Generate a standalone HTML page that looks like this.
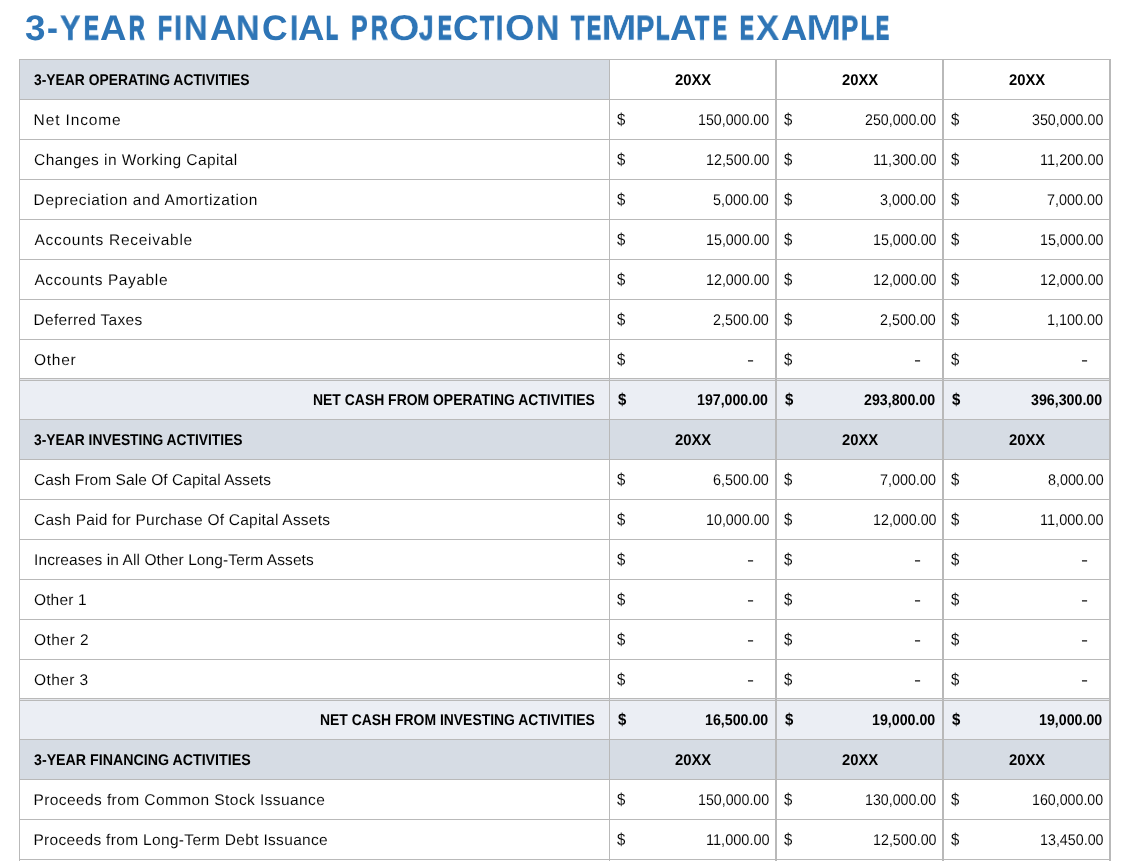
<!DOCTYPE html>
<html lang="en">
<head>
<meta charset="utf-8">
<title>3-YEAR FINANCIAL PROJECTION TEMPLATE EXAMPLE</title>
<style>
html,body{margin:0;padding:0;background:#fff;}
body{width:1123px;height:861px;overflow:hidden;position:relative;font-family:"Liberation Sans",sans-serif;color:#000;text-rendering:geometricPrecision;}
h1{position:absolute;margin:0;left:0;top:8px;width:1123px;height:40px;line-height:40px;font-weight:bold;font-size:35.5px;--tc:#2e75b6;color:var(--tc);white-space:nowrap;}
h1 .w{display:inline;}
h1 .g{display:inline-block;position:relative;top:0;width:0;height:40px;line-height:40px;overflow:visible;vertical-align:top;transform-origin:0 19.75px;will-change:transform;}
.sheet{position:absolute;left:0;top:0;width:1123px;height:861px;}
.r{position:absolute;left:20px;width:1089px;height:39px;}
.r.head .bg,.r.head0 .bg0{background:#d6dce4;}
.r.total .bg{background:#ebeef4;}
.bg{position:absolute;left:0;top:0;width:1089px;height:39px;}
.bg0{position:absolute;left:0;top:0;width:589px;height:39px;}
.c{position:absolute;top:1px;height:39px;line-height:39px;font-size:15.5px;white-space:nowrap;-webkit-text-stroke:0.08px #fff;}
.ds{top:0;font-size:16.8px;transform:scaleX(.89);transform-origin:0 50%;}
.b{font-weight:bold;-webkit-text-stroke:0;}
.hl{position:absolute;left:19px;width:1092px;height:1px;background:#b9b9b9;}
.vl{position:absolute;top:59px;height:802px;background:#b9b9b9;}
</style>
</head>
<body>
<h1 aria-label="3-YEAR FINANCIAL PROJECTION TEMPLATE EXAMPLE"><span class="w"><span class="g" id="t0_0" style="left:24.58px;transform:scale(1.0377,1.0000)">3</span><span class="g" id="t0_1" style="left:47.24px;transform:scale(0.9165,0.9919);-webkit-text-stroke:0.20px var(--tc)">-</span><span class="g" id="t0_2" style="left:60.07px;transform:scale(0.8706,0.9867);-webkit-text-stroke:0.33px var(--tc)">Y</span><span class="g" id="t0_3" style="left:83.98px;transform:scale(0.6268,0.9479);-webkit-text-stroke:1.34px var(--tc)">E</span><span class="g" id="t0_4" style="left:99.64px;transform:scale(1.0327,1.0000)">A</span><span class="g" id="t0_5" style="left:129.08px;transform:scale(0.6097,0.9443);-webkit-text-stroke:1.44px var(--tc)">R</span></span> <span class="w"><span class="g" id="t1_0" style="left:148.33px;transform:scale(0.6416,0.9509);-webkit-text-stroke:1.26px var(--tc)">F</span><span class="g" id="t1_1" style="left:164.43px;transform:scale(0.8171,0.9799);-webkit-text-stroke:0.50px var(--tc)">I</span><span class="g" id="t1_2" style="left:174.14px;transform:scale(0.9191,0.9919);-webkit-text-stroke:0.20px var(--tc)">N</span><span class="g" id="t1_3" style="left:199.96px;transform:scale(1.0323,1.0000)">A</span><span class="g" id="t1_4" style="left:226.53px;transform:scale(0.9170,0.9919);-webkit-text-stroke:0.20px var(--tc)">N</span><span class="g" id="t1_5" style="left:252.18px;transform:scale(0.9944,1.0000)">C</span><span class="g" id="t1_6" style="left:279.86px;transform:scale(0.8297,0.9815);-webkit-text-stroke:0.46px var(--tc)">I</span><span class="g" id="t1_7" style="left:287.86px;transform:scale(1.0312,1.0000)">A</span><span class="g" id="t1_8" style="left:316.21px;transform:scale(0.5488,0.9295);-webkit-text-stroke:1.85px var(--tc)">L</span></span> <span class="w"><span class="g" id="t2_0" style="left:331.48px;transform:scale(0.6991,0.9618);-webkit-text-stroke:0.97px var(--tc)">P</span><span class="g" id="t2_1" style="left:351.62px;transform:scale(0.6527,0.9531);-webkit-text-stroke:1.20px var(--tc)">R</span><span class="g" id="t2_2" style="left:369.29px;transform:scale(1.1095,1.0124);-webkit-text-stroke:0.30px #fff">O</span><span class="g" id="t2_3" style="left:399.57px;transform:scale(0.7335,0.9675);-webkit-text-stroke:0.82px var(--tc)">J</span><span class="g" id="t2_4" style="left:418.14px;transform:scale(0.5787,0.9370);-webkit-text-stroke:1.64px var(--tc)">E</span><span class="g" id="t2_5" style="left:433.23px;transform:scale(0.9829,1.0000)">C</span><span class="g" id="t2_6" style="left:459.92px;transform:scale(0.6482,0.9524);-webkit-text-stroke:1.22px var(--tc)">T</span><span class="g" id="t2_7" style="left:476.68px;transform:scale(0.7065,0.9633);-webkit-text-stroke:0.93px var(--tc)">I</span><span class="g" id="t2_8" style="left:485.27px;transform:scale(1.0756,1.0087);-webkit-text-stroke:0.21px #fff">O</span><span class="g" id="t2_9" style="left:516.44px;transform:scale(0.9057,0.9907);-webkit-text-stroke:0.23px var(--tc)">N</span></span> <span class="w"><span class="g" id="t3_0" style="left:541.17px;transform:scale(0.6086,0.9439);-webkit-text-stroke:1.45px var(--tc)">T</span><span class="g" id="t3_1" style="left:557.85px;transform:scale(0.5901,0.9399);-webkit-text-stroke:1.56px var(--tc)">E</span><span class="g" id="t3_2" style="left:571.19px;transform:scale(1.2151,1.0222);-webkit-text-stroke:0.53px #fff">M</span><span class="g" id="t3_3" style="left:606.54px;transform:scale(0.7655,0.9725);-webkit-text-stroke:0.69px var(--tc)">P</span><span class="g" id="t3_4" style="left:626.58px;transform:scale(0.6200,0.9465);-webkit-text-stroke:1.38px var(--tc)">L</span><span class="g" id="t3_5" style="left:639.92px;transform:scale(1.0364,1.0000)">A</span><span class="g" id="t3_6" style="left:665.27px;transform:scale(0.6521,0.9531);-webkit-text-stroke:1.20px var(--tc)">T</span><span class="g" id="t3_7" style="left:683.24px;transform:scale(0.5856,0.9388);-webkit-text-stroke:1.59px var(--tc)">E</span></span> <span class="w"><span class="g" id="t4_0" style="left:700.77px;transform:scale(0.5830,0.9381);-webkit-text-stroke:1.61px var(--tc)">E</span><span class="g" id="t4_1" style="left:716.56px;transform:scale(0.9774,1.0000)">X</span><span class="g" id="t4_2" style="left:741.65px;transform:scale(1.0290,1.0000)">A</span><span class="g" id="t4_3" style="left:766.04px;transform:scale(1.2092,1.0218);-webkit-text-stroke:0.52px #fff">M</span><span class="g" id="t4_4" style="left:801.68px;transform:scale(0.7219,0.9656);-webkit-text-stroke:0.87px var(--tc)">P</span><span class="g" id="t4_5" style="left:821.71px;transform:scale(0.5976,0.9414);-webkit-text-stroke:1.52px var(--tc)">L</span><span class="g" id="t4_6" style="left:836.72px;transform:scale(0.5452,0.9285);-webkit-text-stroke:1.88px var(--tc)">E</span></span></h1>
<div class="sheet">
<div class="r head0" style="top:60px"><div class="bg0"></div><div id="l0" class="c b" style="left:13.50px;letter-spacing:0.000px;transform:scaleX(0.8941);transform-origin:0 50%">3-YEAR OPERATING ACTIVITIES</div><div id="v0_0" class="c b" style="left:654.56px;letter-spacing:0.000px;transform:scaleX(0.9563);transform-origin:0 50%">20XX</div><div id="v0_1" class="c b" style="left:821.56px;letter-spacing:0.000px;transform:scaleX(0.9563);transform-origin:0 50%">20XX</div><div id="v0_2" class="c b" style="left:988.56px;letter-spacing:0.000px;transform:scaleX(0.9563);transform-origin:0 50%">20XX</div></div>
<div class="r data" style="top:100px"><div id="l1" class="c" style="left:13.58px;letter-spacing:0.879px">Net Income</div><div id="d1_0" class="c ds" style="left:597.46px">$</div><div id="v1_0" class="c" style="left:677.68px;letter-spacing:0.000px;transform:scaleX(0.9172);transform-origin:0 50%">150,000.00</div><div id="d1_1" class="c ds" style="left:764.46px">$</div><div id="v1_1" class="c" style="left:844.76px;letter-spacing:0.000px;transform:scaleX(0.9169);transform-origin:0 50%">250,000.00</div><div id="d1_2" class="c ds" style="left:931.46px">$</div><div id="v1_2" class="c" style="left:1012.42px;letter-spacing:0.000px;transform:scaleX(0.9194);transform-origin:0 50%">350,000.00</div></div>
<div class="r data" style="top:140px"><div id="l2" class="c" style="left:14.02px;letter-spacing:0.458px">Changes in Working Capital</div><div id="d2_0" class="c ds" style="left:597.46px">$</div><div id="v2_0" class="c" style="left:685.67px;letter-spacing:0.000px;transform:scaleX(0.9219);transform-origin:0 50%">12,500.00</div><div id="d2_1" class="c ds" style="left:764.46px">$</div><div id="v2_1" class="c" style="left:852.53px;letter-spacing:0.000px;transform:scaleX(0.9388);transform-origin:0 50%">11,300.00</div><div id="d2_2" class="c ds" style="left:931.46px">$</div><div id="v2_2" class="c" style="left:1019.53px;letter-spacing:0.000px;transform:scaleX(0.9388);transform-origin:0 50%">11,200.00</div></div>
<div class="r data" style="top:180px"><div id="l3" class="c" style="left:13.58px;letter-spacing:0.606px">Depreciation and Amortization</div><div id="d3_0" class="c ds" style="left:597.46px">$</div><div id="v3_0" class="c" style="left:693.30px;letter-spacing:0.000px;transform:scaleX(0.9254);transform-origin:0 50%">5,000.00</div><div id="d3_1" class="c ds" style="left:764.46px">$</div><div id="v3_1" class="c" style="left:860.02px;letter-spacing:0.000px;transform:scaleX(0.9259);transform-origin:0 50%">3,000.00</div><div id="d3_2" class="c ds" style="left:931.46px">$</div><div id="v3_2" class="c" style="left:1027.36px;letter-spacing:0.000px;transform:scaleX(0.9259);transform-origin:0 50%">7,000.00</div></div>
<div class="r data" style="top:220px"><div id="l4" class="c" style="left:14.45px;letter-spacing:0.724px">Accounts Receivable</div><div id="d4_0" class="c ds" style="left:597.46px">$</div><div id="v4_0" class="c" style="left:685.67px;letter-spacing:0.000px;transform:scaleX(0.9219);transform-origin:0 50%">15,000.00</div><div id="d4_1" class="c ds" style="left:764.46px">$</div><div id="v4_1" class="c" style="left:852.67px;letter-spacing:0.000px;transform:scaleX(0.9219);transform-origin:0 50%">15,000.00</div><div id="d4_2" class="c ds" style="left:931.46px">$</div><div id="v4_2" class="c" style="left:1019.67px;letter-spacing:0.000px;transform:scaleX(0.9219);transform-origin:0 50%">15,000.00</div></div>
<div class="r data" style="top:260px"><div id="l5" class="c" style="left:14.45px;letter-spacing:0.599px">Accounts Payable</div><div id="d5_0" class="c ds" style="left:597.46px">$</div><div id="v5_0" class="c" style="left:685.67px;letter-spacing:0.000px;transform:scaleX(0.9219);transform-origin:0 50%">12,000.00</div><div id="d5_1" class="c ds" style="left:764.46px">$</div><div id="v5_1" class="c" style="left:852.67px;letter-spacing:0.000px;transform:scaleX(0.9219);transform-origin:0 50%">12,000.00</div><div id="d5_2" class="c ds" style="left:931.46px">$</div><div id="v5_2" class="c" style="left:1019.67px;letter-spacing:0.000px;transform:scaleX(0.9219);transform-origin:0 50%">12,000.00</div></div>
<div class="r data" style="top:300px"><div id="l6" class="c" style="left:13.52px;letter-spacing:0.294px">Deferred Taxes</div><div id="d6_0" class="c ds" style="left:597.46px">$</div><div id="v6_0" class="c" style="left:693.25px;letter-spacing:0.000px;transform:scaleX(0.9254);transform-origin:0 50%">2,500.00</div><div id="d6_1" class="c ds" style="left:764.46px">$</div><div id="v6_1" class="c" style="left:860.25px;letter-spacing:0.000px;transform:scaleX(0.9254);transform-origin:0 50%">2,500.00</div><div id="d6_2" class="c ds" style="left:931.46px">$</div><div id="v6_2" class="c" style="left:1027.40px;letter-spacing:0.000px;transform:scaleX(0.9298);transform-origin:0 50%">1,100.00</div></div>
<div class="r data" style="top:340px"><div id="l7" class="c" style="left:13.95px;letter-spacing:0.743px">Other</div><div id="d7_0" class="c ds" style="left:597.46px">$</div><div id="v7_0" class="c" style="left:726.71px;letter-spacing:0.000px;transform:scaleX(1.37);transform-origin:0 50%">-</div><div id="d7_1" class="c ds" style="left:764.46px">$</div><div id="v7_1" class="c" style="left:893.71px;letter-spacing:0.000px;transform:scaleX(1.37);transform-origin:0 50%">-</div><div id="d7_2" class="c ds" style="left:931.46px">$</div><div id="v7_2" class="c" style="left:1060.71px;letter-spacing:0.000px;transform:scaleX(1.37);transform-origin:0 50%">-</div></div>
<div class="r total" style="top:380px"><div class="bg"></div><div id="l8" class="c b" style="left:292.99px;letter-spacing:0.000px;transform:scaleX(0.8992);transform-origin:0 50%">NET CASH FROM OPERATING ACTIVITIES</div><div id="d8_0" class="c ds b" style="left:597.70px">$</div><div id="v8_0" class="c b" style="left:676.88px;letter-spacing:0.000px;transform:scaleX(0.9148);transform-origin:0 50%">197,000.00</div><div id="d8_1" class="c ds b" style="left:764.70px">$</div><div id="v8_1" class="c b" style="left:844.19px;letter-spacing:0.000px;transform:scaleX(0.9160);transform-origin:0 50%">293,800.00</div><div id="d8_2" class="c ds b" style="left:931.70px">$</div><div id="v8_2" class="c b" style="left:1011.40px;letter-spacing:0.000px;transform:scaleX(0.9171);transform-origin:0 50%">396,300.00</div></div>
<div class="r head" style="top:420px"><div class="bg"></div><div id="l9" class="c b" style="left:14.10px;letter-spacing:0.000px;transform:scaleX(0.8926);transform-origin:0 50%">3-YEAR INVESTING ACTIVITIES</div><div id="v9_0" class="c b" style="left:654.56px;letter-spacing:0.000px;transform:scaleX(0.9563);transform-origin:0 50%">20XX</div><div id="v9_1" class="c b" style="left:821.56px;letter-spacing:0.000px;transform:scaleX(0.9563);transform-origin:0 50%">20XX</div><div id="v9_2" class="c b" style="left:988.56px;letter-spacing:0.000px;transform:scaleX(0.9563);transform-origin:0 50%">20XX</div></div>
<div class="r data" style="top:460px"><div id="l10" class="c" style="left:14.10px;letter-spacing:0.054px">Cash From Sale Of Capital Assets</div><div id="d10_0" class="c ds" style="left:597.46px">$</div><div id="v10_0" class="c" style="left:693.42px;letter-spacing:0.000px;transform:scaleX(0.9257);transform-origin:0 50%">6,500.00</div><div id="d10_1" class="c ds" style="left:764.46px">$</div><div id="v10_1" class="c" style="left:860.36px;letter-spacing:0.000px;transform:scaleX(0.9259);transform-origin:0 50%">7,000.00</div><div id="d10_2" class="c ds" style="left:931.46px">$</div><div id="v10_2" class="c" style="left:1027.64px;letter-spacing:0.000px;transform:scaleX(0.9240);transform-origin:0 50%">8,000.00</div></div>
<div class="r data" style="top:500px"><div id="l11" class="c" style="left:14.02px;letter-spacing:0.233px">Cash Paid for Purchase Of Capital Assets</div><div id="d11_0" class="c ds" style="left:597.46px">$</div><div id="v11_0" class="c" style="left:685.67px;letter-spacing:0.000px;transform:scaleX(0.9219);transform-origin:0 50%">10,000.00</div><div id="d11_1" class="c ds" style="left:764.46px">$</div><div id="v11_1" class="c" style="left:852.67px;letter-spacing:0.000px;transform:scaleX(0.9219);transform-origin:0 50%">12,000.00</div><div id="d11_2" class="c ds" style="left:931.46px">$</div><div id="v11_2" class="c" style="left:1019.53px;letter-spacing:0.000px;transform:scaleX(0.9388);transform-origin:0 50%">11,000.00</div></div>
<div class="r data" style="top:540px"><div id="l12" class="c" style="left:14.08px;letter-spacing:0.106px">Increases in All Other Long-Term Assets</div><div id="d12_0" class="c ds" style="left:597.46px">$</div><div id="v12_0" class="c" style="left:726.71px;letter-spacing:0.000px;transform:scaleX(1.37);transform-origin:0 50%">-</div><div id="d12_1" class="c ds" style="left:764.46px">$</div><div id="v12_1" class="c" style="left:893.71px;letter-spacing:0.000px;transform:scaleX(1.37);transform-origin:0 50%">-</div><div id="d12_2" class="c ds" style="left:931.46px">$</div><div id="v12_2" class="c" style="left:1060.71px;letter-spacing:0.000px;transform:scaleX(1.37);transform-origin:0 50%">-</div></div>
<div class="r data" style="top:580px"><div id="l13" class="c" style="left:13.95px;letter-spacing:0.154px">Other 1</div><div id="d13_0" class="c ds" style="left:597.46px">$</div><div id="v13_0" class="c" style="left:726.71px;letter-spacing:0.000px;transform:scaleX(1.37);transform-origin:0 50%">-</div><div id="d13_1" class="c ds" style="left:764.46px">$</div><div id="v13_1" class="c" style="left:893.71px;letter-spacing:0.000px;transform:scaleX(1.37);transform-origin:0 50%">-</div><div id="d13_2" class="c ds" style="left:931.46px">$</div><div id="v13_2" class="c" style="left:1060.71px;letter-spacing:0.000px;transform:scaleX(1.37);transform-origin:0 50%">-</div></div>
<div class="r data" style="top:620px"><div id="l14" class="c" style="left:13.95px;letter-spacing:0.482px">Other 2</div><div id="d14_0" class="c ds" style="left:597.46px">$</div><div id="v14_0" class="c" style="left:726.71px;letter-spacing:0.000px;transform:scaleX(1.37);transform-origin:0 50%">-</div><div id="d14_1" class="c ds" style="left:764.46px">$</div><div id="v14_1" class="c" style="left:893.71px;letter-spacing:0.000px;transform:scaleX(1.37);transform-origin:0 50%">-</div><div id="d14_2" class="c ds" style="left:931.46px">$</div><div id="v14_2" class="c" style="left:1060.71px;letter-spacing:0.000px;transform:scaleX(1.37);transform-origin:0 50%">-</div></div>
<div class="r data" style="top:660px"><div id="l15" class="c" style="left:13.95px;letter-spacing:0.430px">Other 3</div><div id="d15_0" class="c ds" style="left:597.46px">$</div><div id="v15_0" class="c" style="left:726.71px;letter-spacing:0.000px;transform:scaleX(1.37);transform-origin:0 50%">-</div><div id="d15_1" class="c ds" style="left:764.46px">$</div><div id="v15_1" class="c" style="left:893.71px;letter-spacing:0.000px;transform:scaleX(1.37);transform-origin:0 50%">-</div><div id="d15_2" class="c ds" style="left:931.46px">$</div><div id="v15_2" class="c" style="left:1060.71px;letter-spacing:0.000px;transform:scaleX(1.37);transform-origin:0 50%">-</div></div>
<div class="r total" style="top:700px"><div class="bg"></div><div id="l16" class="c b" style="left:300.14px;letter-spacing:0.000px;transform:scaleX(0.8983);transform-origin:0 50%">NET CASH FROM INVESTING ACTIVITIES</div><div id="d16_0" class="c ds b" style="left:597.70px">$</div><div id="v16_0" class="c b" style="left:685.11px;letter-spacing:0.000px;transform:scaleX(0.9166);transform-origin:0 50%">16,500.00</div><div id="d16_1" class="c ds b" style="left:764.70px">$</div><div id="v16_1" class="c b" style="left:852.11px;letter-spacing:0.000px;transform:scaleX(0.9166);transform-origin:0 50%">19,000.00</div><div id="d16_2" class="c ds b" style="left:931.70px">$</div><div id="v16_2" class="c b" style="left:1019.11px;letter-spacing:0.000px;transform:scaleX(0.9166);transform-origin:0 50%">19,000.00</div></div>
<div class="r head" style="top:740px"><div class="bg"></div><div id="l17" class="c b" style="left:14.10px;letter-spacing:0.000px;transform:scaleX(0.9170);transform-origin:0 50%">3-YEAR FINANCING ACTIVITIES</div><div id="v17_0" class="c b" style="left:654.56px;letter-spacing:0.000px;transform:scaleX(0.9563);transform-origin:0 50%">20XX</div><div id="v17_1" class="c b" style="left:821.56px;letter-spacing:0.000px;transform:scaleX(0.9563);transform-origin:0 50%">20XX</div><div id="v17_2" class="c b" style="left:988.56px;letter-spacing:0.000px;transform:scaleX(0.9563);transform-origin:0 50%">20XX</div></div>
<div class="r data" style="top:780px"><div id="l18" class="c" style="left:13.38px;letter-spacing:0.415px">Proceeds from Common Stock Issuance</div><div id="d18_0" class="c ds" style="left:597.46px">$</div><div id="v18_0" class="c" style="left:677.68px;letter-spacing:0.000px;transform:scaleX(0.9172);transform-origin:0 50%">150,000.00</div><div id="d18_1" class="c ds" style="left:764.46px">$</div><div id="v18_1" class="c" style="left:844.68px;letter-spacing:0.000px;transform:scaleX(0.9172);transform-origin:0 50%">130,000.00</div><div id="d18_2" class="c ds" style="left:931.46px">$</div><div id="v18_2" class="c" style="left:1011.68px;letter-spacing:0.000px;transform:scaleX(0.9172);transform-origin:0 50%">160,000.00</div></div>
<div class="r data" style="top:820px"><div id="l19" class="c" style="left:13.38px;letter-spacing:0.327px">Proceeds from Long-Term Debt Issuance</div><div id="d19_0" class="c ds" style="left:597.46px">$</div><div id="v19_0" class="c" style="left:685.53px;letter-spacing:0.000px;transform:scaleX(0.9388);transform-origin:0 50%">11,000.00</div><div id="d19_1" class="c ds" style="left:764.46px">$</div><div id="v19_1" class="c" style="left:852.67px;letter-spacing:0.000px;transform:scaleX(0.9219);transform-origin:0 50%">12,500.00</div><div id="d19_2" class="c ds" style="left:931.46px">$</div><div id="v19_2" class="c" style="left:1019.67px;letter-spacing:0.000px;transform:scaleX(0.9219);transform-origin:0 50%">13,450.00</div></div>
<div class="hl" style="top:59px"></div><div class="hl" style="top:99px"></div><div class="hl" style="top:139px"></div><div class="hl" style="top:179px"></div><div class="hl" style="top:219px"></div><div class="hl" style="top:259px"></div><div class="hl" style="top:299px"></div><div class="hl" style="top:339px"></div><div class="hl" style="top:378px"></div><div class="hl" style="top:379px;background:#e4e6ea"></div><div class="hl" style="top:380px"></div><div class="hl" style="top:419px"></div><div class="hl" style="top:459px"></div><div class="hl" style="top:499px"></div><div class="hl" style="top:539px"></div><div class="hl" style="top:579px"></div><div class="hl" style="top:619px"></div><div class="hl" style="top:659px"></div><div class="hl" style="top:698px"></div><div class="hl" style="top:699px;background:#e4e6ea"></div><div class="hl" style="top:700px"></div><div class="hl" style="top:739px"></div><div class="hl" style="top:779px"></div><div class="hl" style="top:819px"></div><div class="hl" style="top:859px"></div>
<div class="vl" style="left:19px;width:1px"></div><div class="vl" style="left:609px;width:1px"></div><div class="vl" style="left:775px;width:2px"></div><div class="vl" style="left:942px;width:2px"></div><div class="vl" style="left:1109px;width:2px"></div>
</div>
</body>
</html>
